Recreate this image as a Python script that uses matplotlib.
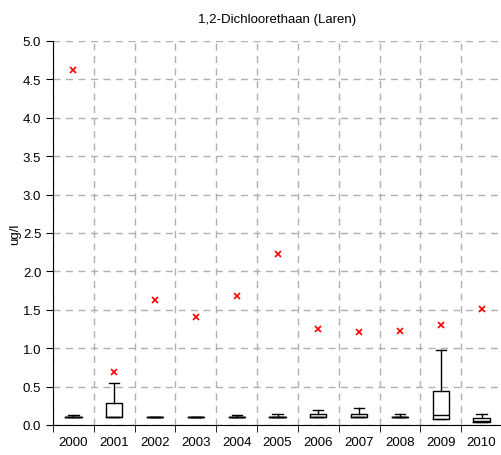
import matplotlib
matplotlib.use("Agg")
import matplotlib.pyplot as plt
import numpy as np

plt.rcParams['font.family'] = ['Liberation Sans', 'DejaVu Sans']

years = ["2000", "2001", "2002", "2003", "2004", "2005", "2006", "2007", "2008", "2009", "2010"]
whisk_lo = [0.10, 0.10, 0.10, 0.10, 0.10, 0.10, 0.10, 0.10, 0.10, 0.08, 0.04]
q1 = [0.10, 0.10, 0.10, 0.10, 0.10, 0.10, 0.10, 0.10, 0.10, 0.08, 0.04]
median = [0.10, 0.10, 0.10, 0.10, 0.10, 0.10, 0.10, 0.10, 0.10, 0.13, 0.05]
q3 = [0.11, 0.29, 0.10, 0.10, 0.11, 0.11, 0.14, 0.14, 0.11, 0.44, 0.09]
whisk_hi = [0.13, 0.55, 0.10, 0.10, 0.13, 0.14, 0.20, 0.22, 0.14, 0.98, 0.14]
maxima = [4.62, 0.69, 1.63, 1.41, 1.68, 2.23, 1.25, 1.21, 1.22, 1.30, 1.51]

fig = plt.figure(figsize=(5.02, 4.56), dpi=100)
ax = fig.add_axes([53/502, 1-426/456, 449/502, (426-42)/456])

stats = []
for i in range(len(years)):
    stats.append(dict(whislo=whisk_lo[i], q1=q1[i], med=median[i], q3=q3[i], whishi=whisk_hi[i], fliers=[]))
pos = np.arange(len(years))
ax.bxp(stats, positions=pos, widths=0.4, showfliers=False,
       boxprops=dict(color='black', linewidth=1),
       medianprops=dict(color='black', linewidth=1),
       whiskerprops=dict(color='black', linewidth=1),
       capprops=dict(color='black', linewidth=1), capwidths=0.25, zorder=3)
ax.plot(pos, maxima, linestyle='none', marker='x', color='red', markersize=5, markeredgewidth=1.2, zorder=4)

ax.set_xlim(-0.5, len(years) - 0.5)
ax.set_ylim(0, 5.0)
ax.set_yticks(np.arange(0, 5.01, 0.5))
ax.set_yticklabels([f"{v:.1f}" for v in np.arange(0, 5.01, 0.5)], fontsize=9.5)
ax.set_xticks(pos)
ax.set_xticklabels(years, fontsize=9.5)
ax.set_xticks(np.arange(-0.5, len(years), 1.0), minor=True)
ax.tick_params(axis='x', which='major', length=0, pad=8)
ax.tick_params(axis='x', which='minor', length=5, direction='out', color='black')
ax.tick_params(axis='y', length=5, direction='out')
ax.yaxis.grid(True, linestyle=(0, (5, 4)), color='#b0b0b0', linewidth=1)
ax.xaxis.grid(True, which='minor', linestyle=(0, (5, 4)), color='#b0b0b0', linewidth=1)
ax.set_axisbelow(True)
ax.spines['top'].set_visible(False)
ax.spines['right'].set_visible(False)
ax.set_ylabel("ug/l", fontsize=9.5, labelpad=1)
ax.set_title("1,2-Dichloorethaan (Laren)", fontsize=9.5, pad=14)

fig.savefig("out.png", dpi=100)
